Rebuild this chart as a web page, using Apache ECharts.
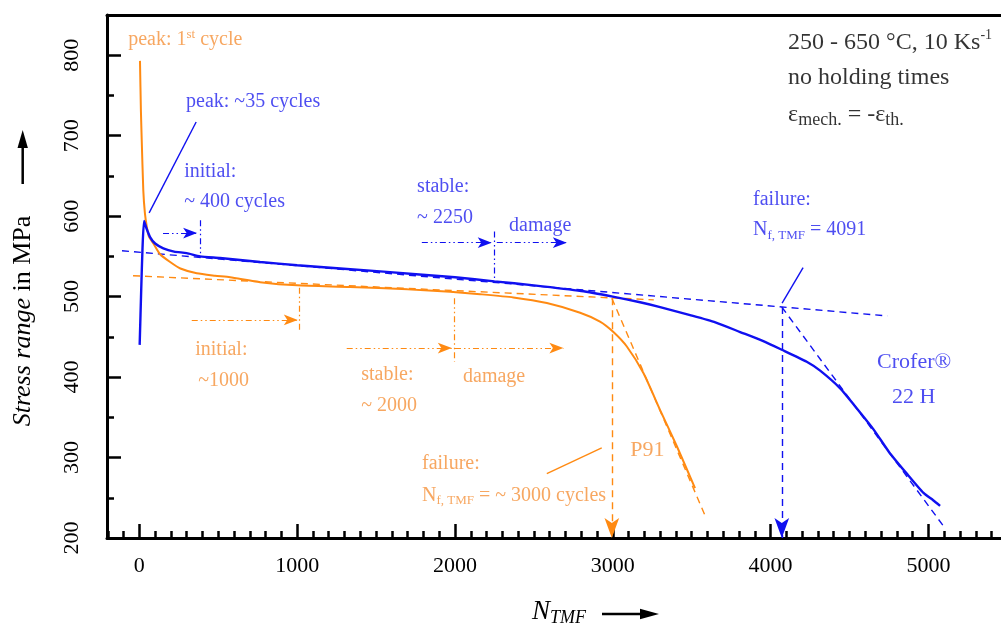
<!DOCTYPE html>
<html>
<head>
<meta charset="utf-8">
<script src="https://cdn.jsdelivr.net/npm/echarts@6/dist/echarts.min.js"></script>
<style>html,body{margin:0;padding:0;background:#fff}#c{width:1001px;height:633px}</style>
</head>
<body>
<div id="c"></div>
<script>
// ---------- data ----------
const cycP91 = [4, 10, 15, 25, 35, 47, 60, 89, 130, 195, 260, 364, 480, 575, 765, 1000, 1335, 1700, 1969, 2159, 2370, 2582, 2793, 2919, 3004, 3089, 3194, 3300, 3406, 3521];
const stressP91 = [793, 730, 695, 632, 604, 587, 575, 566, 553, 543, 535, 529, 526, 524, 518, 514, 512, 509, 506, 503, 499, 492, 480, 469, 456, 438, 405, 359, 314, 262];

const cycCrofer = [2, 12, 20, 30, 45, 68, 100, 152, 220, 300, 385, 511, 765, 1000, 1547, 2000, 2250, 2500, 2800, 3000, 3173, 3300, 3490, 3650, 3807, 3950, 4071, 4229, 4314, 4441, 4530, 4652, 4750, 4863, 4969, 5030, 5074];
const stressCrofer = [440, 510, 560, 594, 585, 574, 566, 560, 556, 554, 550, 548, 543, 539, 531, 524, 519, 514, 507, 500, 493, 487, 477, 468, 456, 445, 434, 419, 408, 386, 365, 335, 307, 280, 256, 247, 240];

const xMajorTicks = [0, 1000, 2000, 3000, 4000, 5000];
const xMinorTicks = [-200, -100, 100, 200, 300, 400, 500, 600, 700, 800, 900,
  1100, 1200, 1300, 1400, 1500, 1600, 1700, 1800, 1900,
  2100, 2200, 2300, 2400, 2500, 2600, 2700, 2800, 2900,
  3100, 3200, 3300, 3400, 3500, 3600, 3700, 3800, 3900,
  4100, 4200, 4300, 4400, 4500, 4600, 4700, 4800, 4900,
  5100, 5200, 5300, 5400];

// guide lines (data coordinates): [x1, y1, x2, y2]
const blueTangent = [-110, 557, 4740, 476];
const blueSteep = [4071, 487, 5106, 212];
const blueFailure = [4071, 487, 4071, 200];
const blueLeaderPeak = [360, 717, 62, 604];
const blueLeaderFail = [4206, 536, 4073, 492];
const blueInitArrow = [150, 579, 366, 579];
const blueInitMark = [385, 595, 385, 549];
const blueStableArrow = [1790, 567, 2233, 567];
const blueStableMark = [2248, 581, 2248, 518];
const blueDamageArrow = [2265, 567, 2709, 567];

const orangeTangent = [-40, 526, 3260, 496];
const orangeSteep = [2994, 498, 3589, 226];
const orangeFailure = [2994, 498, 2994, 200];
const orangeLeaderFail = [2582, 280, 2930, 312];
const orangeInitArrow = [332, 471, 1004, 471];
const orangeInitMark = [1012, 511, 1012, 456];
const orangeStableArrow = [1314, 436, 1980, 436];
const orangeStableMark = [1994, 498, 1994, 419];
const orangeDamageArrow = [2000, 436, 2687, 436];

// ---------- styles ----------
const FONT = 'Liberation Serif';
const ORANGE = '#ff8a12', ORANGE_TXT = '#f5913a';
const BLUE = '#1010f0', BLUE_TXT = '#2222ee';
const DASH = [7, 5];
const DASHDOT = [6, 3, 1.5, 3, 1.5, 3];

function seg(c, color, type, width, arrow, asz) {
  return [
    {coord: [c[0], c[1]], symbol: 'none', lineStyle: {color: color, type: type, width: width}},
    {coord: [c[2], c[3]], symbol: arrow ? 'arrow' : 'none', symbolSize: asz || [8, 14], itemStyle: {color: color}}
  ];
}

const orangeGuides = [
  seg(orangeTangent, ORANGE, DASH, 1.4),
  seg(orangeSteep, ORANGE, DASH, 1.4),
  seg(orangeFailure, ORANGE, DASH, 1.4, true, [11, 20]),
  seg(orangeLeaderFail, ORANGE, 'solid', 1.4),
  seg(orangeInitArrow, ORANGE, DASHDOT, 1.2, true),
  seg(orangeInitMark, ORANGE, DASHDOT, 1.2),
  seg(orangeStableArrow, ORANGE, DASHDOT, 1.2, true),
  seg(orangeStableMark, ORANGE, DASHDOT, 1.2),
  seg(orangeDamageArrow, ORANGE, DASHDOT, 1.2, true)
];
const blueGuides = [
  seg(blueTangent, BLUE, DASH, 1.4),
  seg(blueSteep, BLUE, DASH, 1.4),
  seg(blueFailure, BLUE, DASH, 1.4, true, [11, 20]),
  seg(blueLeaderPeak, BLUE, 'solid', 1.4),
  seg(blueLeaderFail, BLUE, 'solid', 1.4),
  seg(blueInitArrow, BLUE, DASHDOT, 1.2, true),
  seg(blueInitMark, BLUE, DASHDOT, 1.2),
  seg(blueStableArrow, BLUE, DASHDOT, 1.2, true),
  seg(blueStableMark, BLUE, DASHDOT, 1.2),
  seg(blueDamageArrow, BLUE, DASHDOT, 1.2, true)
];

// annotation texts: [x, y, rich text]
const notes = [
  [-71, 819, '{oT|peak: 1}{oSup|st}{oT| cycle}'],
  [354, 434, '{oT|initial:}'],
  [373, 396, '{oT|~1000}'],
  [1406, 403, '{oT|stable:}'],
  [1406, 364, '{oT|~ 2000}'],
  [2051, 400, '{oT|damage}'],
  [1791, 292, '{oT|failure:}'],
  [1791, 253, '{oT|N}{oSub|f, TMF}{oT| = ~ 3000 cycles}'],
  [3110, 309, '{oBig|P91}'],
  [296, 742, '{bT|peak: ~35 cycles}'],
  [284, 655, '{bT|initial:}'],
  [284, 618, '{bT|~ 400 cycles}'],
  [1760, 636, '{bT|stable:}'],
  [1760, 598, '{bT|~ 2250}'],
  [2343, 588, '{bT|damage}'],
  [3889, 621, '{bT|failure:}'],
  [3889, 583, '{bT|N}{bSub|f, TMF}{bT| = 4091}'],
  [4675, 419, '{bBig|Crofer®}'],
  [4770, 375, '{bBig|22 H}'],
  [4111, 816, '{kT|250 - 650 °C, 10 Ks}{kSup|-1}'],
  [4111, 772, '{kT|no holding times}'],
  [4111, 726, '{kT|ε}{kSub|mech.}{kT| = -ε}{kSub|th.}']
];

const rich = {
  oT: {fontFamily: FONT, fontSize: 20, color: ORANGE_TXT, lineHeight: 24},
  oSup: {fontFamily: FONT, fontSize: 13, color: ORANGE_TXT, lineHeight: 14, verticalAlign: 'top'},
  oSub: {fontFamily: FONT, fontSize: 13, color: ORANGE_TXT, lineHeight: 14, verticalAlign: 'bottom'},
  oBig: {fontFamily: FONT, fontSize: 22, color: ORANGE_TXT, lineHeight: 26},
  bT: {fontFamily: FONT, fontSize: 20, color: BLUE_TXT, lineHeight: 24},
  bSub: {fontFamily: FONT, fontSize: 13, color: BLUE_TXT, lineHeight: 14, verticalAlign: 'bottom'},
  bBig: {fontFamily: FONT, fontSize: 22, color: BLUE_TXT, lineHeight: 26},
  kT: {fontFamily: FONT, fontSize: 24, color: '#000', lineHeight: 28},
  kSup: {fontFamily: FONT, fontSize: 14, color: '#000', lineHeight: 16, verticalAlign: 'top'},
  kSub: {fontFamily: FONT, fontSize: 18, color: '#000', lineHeight: 18, verticalAlign: 'bottom'}
};

const zip = (xs, ys) => xs.map((x, i) => [x, ys[i]]);

const X_MIN = -205, X_MAX = 5460;
const AX = {color: '#000', width: 3};

const chart = echarts.init(document.getElementById('c'));
chart.setOption({
  animation: false,
  backgroundColor: '#fff',
  grid: [
    {left: 107, right: 0, top: 15, bottom: 95},
    {left: 107, right: 0, top: 15, bottom: 95}
  ],
  xAxis: [
    {
      gridIndex: 0, type: 'value', position: 'bottom', min: X_MIN, max: X_MAX,
      axisLine: {show: true, onZero: false, lineStyle: AX},
      axisTick: {show: true, inside: true, length: 14, lineStyle: {color: '#000', width: 2.5}, customValues: xMajorTicks},
      axisLabel: {show: true, margin: 17, fontFamily: FONT, fontSize: 22, color: '#000', customValues: xMajorTicks,
        formatter: v => String(v)},
      splitLine: {show: false},
      name: '{n|N}{s|TMF}', nameLocation: 'middle', nameGap: 59,
      nameTextStyle: {padding: [0, 0, 0, 10], rich: {
        n: {fontFamily: FONT, fontStyle: 'italic', fontSize: 27, color: '#000', lineHeight: 30},
        s: {fontFamily: FONT, fontStyle: 'italic', fontSize: 18, color: '#000', lineHeight: 18, verticalAlign: 'bottom'}
      }}
    },
    {
      gridIndex: 1, type: 'value', position: 'bottom', min: X_MIN, max: X_MAX,
      axisLine: {show: false},
      axisTick: {show: true, inside: true, length: 7, lineStyle: {color: '#000', width: 2.5}, customValues: xMinorTicks},
      axisLabel: {show: false}, splitLine: {show: false}
    },
    {
      gridIndex: 0, type: 'value', position: 'top', min: X_MIN, max: X_MAX,
      axisLine: {show: true, onZero: false, lineStyle: AX},
      axisTick: {show: false}, axisLabel: {show: false}, splitLine: {show: false}
    }
  ],
  yAxis: [
    {
      gridIndex: 0, type: 'value', position: 'left', min: 200, max: 850, interval: 100,
      axisLine: {show: true, onZero: false, lineStyle: AX},
      axisTick: {show: true, inside: true, length: 14, lineStyle: {color: '#000', width: 2.5}},
      minorTick: {show: true, splitNumber: 2, length: 7, lineStyle: {color: '#000', width: 2.5}},
      axisLabel: {show: true, rotate: 90, margin: 24, fontFamily: FONT, fontSize: 22, color: '#000', showMaxLabel: false},
      splitLine: {show: false},
      name: '{it|Stress range}{rm| in MPa}', nameLocation: 'middle', nameRotate: 90, nameGap: 71,
      nameTextStyle: {padding: [0, 89, 0, 0], rich: {
        it: {fontFamily: FONT, fontStyle: 'italic', fontSize: 26, color: '#000'},
        rm: {fontFamily: FONT, fontSize: 26, color: '#000'}
      }}
    },
    {gridIndex: 1, type: 'value', min: 200, max: 850, show: false}
  ],
  series: [
    {
      name: 'P91', type: 'line', xAxisIndex: 0, yAxisIndex: 0, showSymbol: false, symbol: 'none',
      smooth: 0.2,
      data: zip(cycP91, stressP91), lineStyle: {color: ORANGE, width: 2}, z: 3, silent: true,
      markLine: {silent: true, symbol: ['none', 'none'], label: {show: false}, data: orangeGuides, z: 2}
    },
    {
      name: 'Crofer 22 H', type: 'line', xAxisIndex: 0, yAxisIndex: 0, showSymbol: false, symbol: 'none',
      smooth: 0.2,
      data: zip(cycCrofer, stressCrofer), lineStyle: {color: BLUE, width: 2.4}, z: 4, silent: true,
      markLine: {silent: true, symbol: ['none', 'none'], label: {show: false}, data: blueGuides, z: 2}
    },
    {
      name: 'notes', type: 'scatter', xAxisIndex: 0, yAxisIndex: 0, symbolSize: 0, silent: true, z: 6,
      label: {show: true, position: 'right', distance: 0, rich: rich},
      data: notes.map(n => ({value: [n[0], n[1]], label: {formatter: n[2]}}))
    }
  ],
  graphic: [
    {type: 'line', shape: {x1: 22.7, y1: 184, x2: 22.7, y2: 144}, style: {stroke: '#000', lineWidth: 2.5}},
    {type: 'polygon', shape: {points: [[22.7, 130], [17.5, 148], [27.9, 148]]}, style: {fill: '#000'}},
    {type: 'line', shape: {x1: 602, y1: 614, x2: 644, y2: 614}, style: {stroke: '#000', lineWidth: 2.5}},
    {type: 'polygon', shape: {points: [[659, 614], [640, 608.8], [640, 619.2]]}, style: {fill: '#000'}}
  ]
});
</script>
</body>
</html>
